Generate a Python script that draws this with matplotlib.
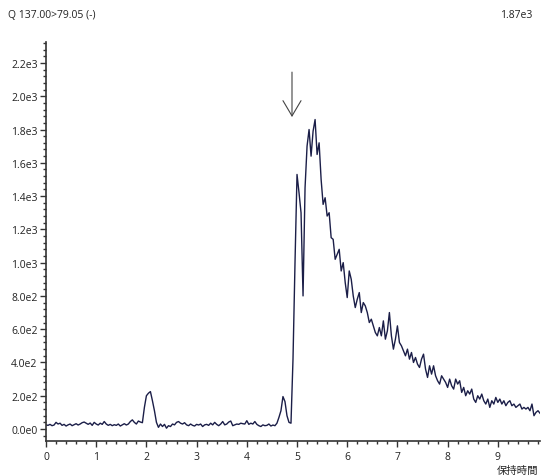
import numpy as np
import matplotlib
matplotlib.use("Agg")
import matplotlib.pyplot as plt
from matplotlib.ticker import MultipleLocator, FuncFormatter
from matplotlib.patches import ArrowStyle

# ---- data ----
rt_start = 0.0
rt_step = 0.04
intensity = [
    25, 22, 28, 20, 24, 40, 30, 35, 22, 28,
    18, 25, 30, 20, 26, 32, 24, 30, 38, 42,
    35, 28, 36, 22, 40, 30, 24, 35, 28, 45,
    30, 22, 28, 20, 26, 22, 30, 18, 25, 32,
    24, 30, 45, 55, 40, 30, 48, 42, 38, 130,
    200, 215, 225, 170, 110, 40, 10, 30, 15, 28,
    5, 20, 15, 30, 25, 40, 45, 35, 30, 38,
    25, 20, 30, 22, 18, 28, 24, 30, 15, 25,
    28, 22, 35, 25, 40, 28, 20, 30, 45, 25,
    30, 42, 48, 20, 25, 30, 28, 35, 32, 30,
    50, 28, 35, 30, 45, 28, 20, 15, 25, 20,
    22, 30, 18, 24, 20, 35, 70, 110, 195, 165,
    80, 40, 35, 420, 1000, 1530, 1420, 1300, 800, 1450,
    1700, 1800, 1640, 1790, 1860, 1650, 1720, 1500, 1350, 1390,
    1280, 1300, 1150, 1140, 1020, 1050, 1080, 950, 1000, 880,
    790, 950, 900, 800, 730, 780, 820, 700, 760, 740,
    700, 640, 660, 620, 580, 560, 610, 560, 650, 540,
    590, 700, 560, 480, 540, 620, 520, 500, 470, 440,
    480, 420, 460, 400, 430, 390, 370, 420, 450, 360,
    310, 380, 330, 380, 320, 290, 270, 320, 300, 280,
    250, 300, 260, 240, 300, 270, 290, 220, 250, 200,
    230, 210, 240, 180, 160, 200, 180, 210, 170, 150,
    180, 130, 170, 150, 190, 160, 180, 150, 170, 140,
    160, 170, 140, 150, 130, 140, 150, 120, 130, 120,
    130, 110, 150, 80, 100, 110, 95,
]
retention = rt_start + rt_step * np.arange(len(intensity))

title_left = "Q 137.00>79.05 (-)"
title_right = "1.87e3"
xlabel = "保持時間"
arrow_x = 4.90
arrow_tip = 1875
arrow_tail = 2145

# ---- figure ----
plt.rcParams['font.family'] = ['Open Sans', 'Noto Sans CJK JP', 'DejaVu Sans']
fig = plt.figure(figsize=(5.42, 4.77), dpi=100)
ax = fig.add_axes([46/542, 35/477, 494/542, 399/477])

line_color = '#1b1e48'
ax.plot(retention, intensity, color=line_color, lw=1.0)

ax.set_xlim(0, 9.84)
ax.set_ylim(-72, 2326)

ax.xaxis.set_major_locator(MultipleLocator(1))
ax.xaxis.set_minor_locator(MultipleLocator(0.2))
ax.yaxis.set_major_locator(MultipleLocator(200))
ax.yaxis.set_minor_locator(MultipleLocator(40))

def yfmt(v, pos):
    if abs(v) < 1e-9:
        return "0.0e0"
    e = int(np.floor(np.log10(abs(v))))
    m = v / 10**e
    return f"{m:.1f}e{e}"

ax.yaxis.set_major_formatter(FuncFormatter(yfmt))
ax.xaxis.set_major_formatter(FuncFormatter(lambda v, p: f"{int(round(v))}"))

for s in ['top', 'right']:
    ax.spines[s].set_visible(False)
spine_col = '#333333'
for s in ['left', 'bottom']:
    ax.spines[s].set_color(spine_col)
    ax.spines[s].set_linewidth(1.2)

ax.tick_params(which='major', length=4, width=1, color=spine_col,
               labelsize=7.5, labelcolor='#222222', direction='out')
ax.tick_params(which='minor', length=2.5, width=1, color=spine_col, direction='out')
ax.tick_params(axis='y', pad=2)
ax.tick_params(axis='x', pad=3)

ax.annotate("", xy=(arrow_x, arrow_tip), xytext=(arrow_x, arrow_tail),
            arrowprops=dict(arrowstyle=ArrowStyle('->', head_length=1.1, head_width=0.65),
                            color='#444444', lw=0.8, mutation_scale=10,
                            shrinkA=0, shrinkB=0))

fig.text(8/542, 1 - 15/477, title_left, fontsize=7.5, color='#222222',
         ha='left', va='center')
fig.text(532/542, 1 - 15/477, title_right, fontsize=7.5, color='#222222',
         ha='right', va='center')
fig.text(538/542, 1 - 471/477, xlabel, fontsize=7.5, color='#222222',
         ha='right', va='center')

fig.savefig("out.png", dpi=100)
